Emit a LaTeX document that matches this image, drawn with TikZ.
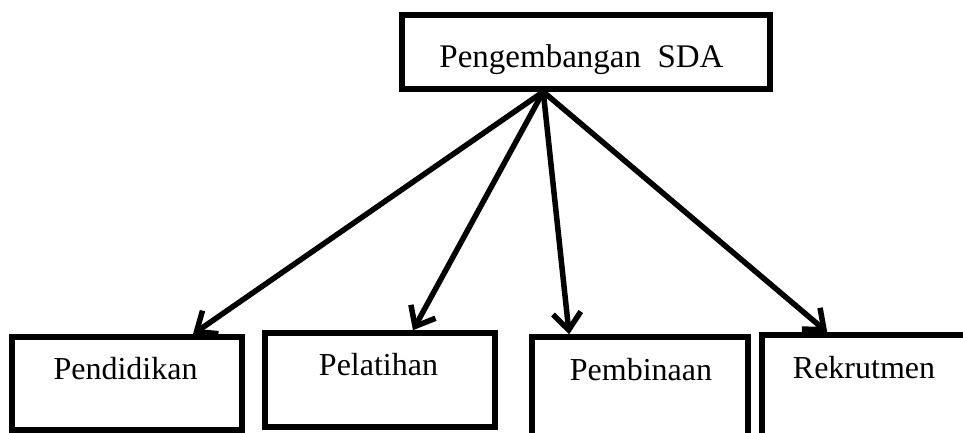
\documentclass[tikz,border=0pt]{standalone}
\usepackage{fontspec}
\setmainfont{Liberation Serif}
\usetikzlibrary{arrows.meta,calc}
\begin{document}
\begin{tikzpicture}[x=1pt,y=-1pt,
  box/.style={draw=black, line width=5.5pt, fill=white, minimum width=#1, inner sep=0pt},
  lbl/.style={anchor=base, inner sep=0pt, font=\fontsize{32}{38}\selectfont},
  conn/.style={line width=5.5pt, -{Straight Barb[length=17pt,width=28pt,line width=5.5pt]}}]
\useasboundingbox (0,0) rectangle (963,432);
\clip (0,0) rectangle (963,432);
\node[box=368pt, minimum height=74pt] (top) at (586,52) {};
\node[box=230pt, minimum height=93pt] (pend) at (127,383.5) {};
\node[box=230pt, minimum height=94pt] (pela) at (380,380) {};
\node[box=216pt, minimum height=108pt] (pemb) at (640,391) {};
\node[box=218pt, minimum height=115pt] (rek) at (871,392.5) {};
\node[lbl, font=\fontsize{33}{39}\selectfont] (ttop) at (581.5,67) {Pengembangan\ \ SDA};
\node[lbl] (tpend) at (125.5,379) {Pendidikan};
\node[lbl] (tpela) at (378.5,375) {Pelatihan};
\node[lbl] (tpemb) at (641,380) {Pembinaan};
\node[lbl] (trek) at (864,378) {Rekrutmen};
\coordinate (src) at ($(top.south west)+(144,0)$);
\draw[conn] (src) -- ($(pend.north west)!0.78!(pend.north east)$);
\draw[conn] (src) -- ($(pela.north west)!0.64!(pela.north east)$);
\draw[conn] (src) -- ($(pemb.north west)!0.18!(pemb.north east)$);
\draw[conn] (src) -- ($(rek.north west)+(68,0)$);
\end{tikzpicture}
\end{document}
